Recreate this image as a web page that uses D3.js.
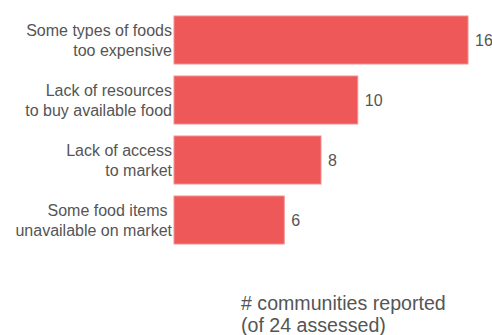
<!DOCTYPE html>
<html><head><meta charset="utf-8">
<script src="https://cdn.jsdelivr.net/npm/d3@7/dist/d3.min.js"></script>
<style>body{margin:0;background:#fff}svg{display:block}text{font-family:"Liberation Sans",Arial,sans-serif;fill:#555}</style>
</head><body><svg id="c" width="492" height="335"></svg>
<script>
const categories = [
  ["Some types of foods", "too expensive"],
  ["Lack of resources", "to buy available food"],
  ["Lack of access", "to market"],
  ["Some food items ", "unavailable on market"]
];
const values = [16, 10, 8, 6];
const axisTitle = ["# communities reported", "(of 24 assessed)"];

const svg = d3.select("#c");
const left = 174;
const x = d3.scaleLinear().domain([0, 16]).range([left, 468]);
const y = d3.scaleBand().domain(d3.range(values.length)).range([10, 250]).paddingInner(0.2).paddingOuter(0.1);

svg.selectAll("rect.bar").data(values).join("rect")
  .attr("class", "bar")
  .attr("x", x(0)).attr("y", (d, i) => y(i))
  .attr("width", d => x(d) - x(0)).attr("height", y.bandwidth())
  .attr("fill", "#ee5859").attr("stroke", "#f28f8f").attr("stroke-width", 1);

svg.selectAll("text.val").data(values).join("text")
  .attr("class", "val")
  .attr("x", d => x(d) + 7).attr("y", (d, i) => y(i) + y.bandwidth() / 2)
  .attr("dy", "0.35em").attr("font-size", 16).text(d => d);

const lab = svg.selectAll("text.cat").data(categories).join("text")
  .attr("class", "cat").attr("text-anchor", "end").attr("font-size", 16)
  .attr("xml:space", "preserve").style("white-space", "pre");
lab.each(function(d, i) {
  const t = d3.select(this);
  const cy = y(i) + y.bandwidth() / 2;
  d.forEach((line, j) => {
    t.append("tspan").attr("x", left - 2).attr("y", cy - 4 + j * 20).text(line);
  });
});

const title = svg.append("text").attr("font-size", 19.6);
axisTitle.forEach((line, j) => {
  title.append("tspan").attr("x", 241).attr("y", 310 + j * 22).text(line);
});
</script></body></html>
